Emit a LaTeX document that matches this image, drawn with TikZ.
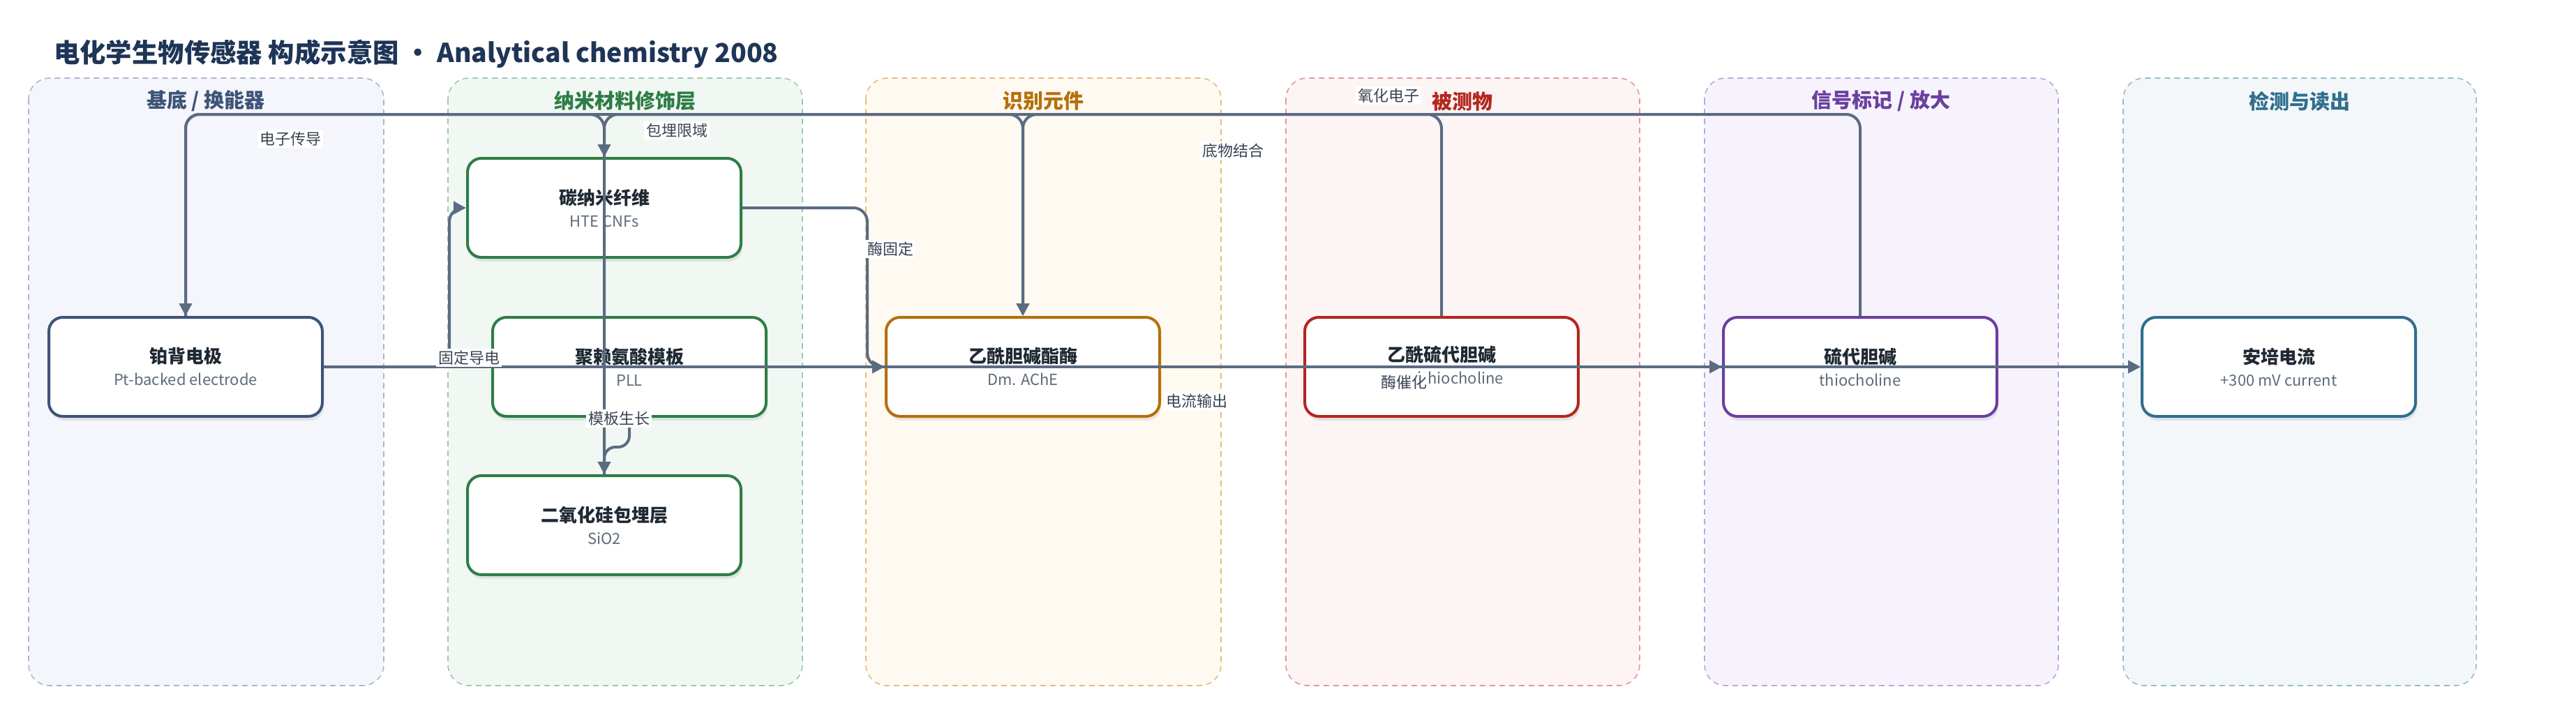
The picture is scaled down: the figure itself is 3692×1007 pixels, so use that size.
\documentclass[tikz,border=0pt]{standalone}
\usepackage{fontspec}
\setmainfont{Noto Sans CJK SC}
\usetikzlibrary{arrows.meta,shadows}

\definecolor{edgec}{HTML}{5B6B82}
\definecolor{titlec}{HTML}{1E3557}
\definecolor{txtc}{HTML}{1F2933}
\definecolor{subc}{HTML}{5F6B7A}
\definecolor{lblc}{HTML}{3A4454}
% lane colours: fill / dash / title
\definecolor{fA}{HTML}{F4F6FB}\definecolor{dA}{HTML}{A9B7CC}\definecolor{cA}{HTML}{3D5478}
\definecolor{fB}{HTML}{F1F8F3}\definecolor{dB}{HTML}{9CC9AB}\definecolor{cB}{HTML}{2E7D46}
\definecolor{fC}{HTML}{FEF9F1}\definecolor{dC}{HTML}{E3BD7D}\definecolor{cC}{HTML}{B5700A}
\definecolor{fD}{HTML}{FDF4F4}\definecolor{dD}{HTML}{E09B9B}\definecolor{cD}{HTML}{B3261E}
\definecolor{fE}{HTML}{F7F3FC}\definecolor{dE}{HTML}{BDA6DC}\definecolor{cE}{HTML}{6B3FA0}
\definecolor{fF}{HTML}{F3F7F9}\definecolor{dF}{HTML}{97BCCB}\definecolor{cF}{HTML}{2F6E8E}

\newcommand{\ntitle}[1]{{\fontsize{13pt}{16pt}\selectfont\bfseries\color{txtc}#1}}
\newcommand{\nsub}[1]{{\fontsize{11pt}{16pt}\selectfont\color{subc}#1}}

\tikzset{
  lane/.style 2 args={fill=#1,draw=#2,line width=0.8pt,dash pattern=on 4pt off 3pt,rounded corners=15pt},
  lanetitle/.style={font=\fontsize{14.5pt}{17pt}\selectfont\bfseries,text=#1},
  box/.style={draw=#1,fill=white,line width=2pt,rounded corners=10pt,
    minimum width=196pt,minimum height=71pt,align=center,
    font=\fontsize{11pt}{16pt}\selectfont,
    drop shadow={opacity=0.16,shadow xshift=1pt,shadow yshift=-3pt}},
  edge/.style={draw=edgec,line width=2pt,rounded corners=10pt,-{Triangle[length=9pt,width=9pt]}},
  lbl/.style={fill=white,inner sep=1.5pt,text=lblc,font=\fontsize{11pt}{13pt}\selectfont},
}

\begin{document}
\begin{tikzpicture}[x=0.5pt,y=-0.5pt]
        \fill[white] (0,0) rectangle (3692,1007);
        \useasboundingbox (0,0) rectangle (3692,1007);
        %
        \node[anchor=west,text=titlec,font=\fontsize{18.7pt}{22pt}\selectfont\bfseries] (title) at (70,77)
          {电化学生物传感器 构成示意图 · Analytical chemistry 2008};
        %
        % lanes
        \filldraw[lane={fA}{dA}] (41,112) rectangle (550,983);
        \filldraw[lane={fB}{dB}] (642,112) rectangle (1150,983);
        \filldraw[lane={fC}{dC}] (1241,112) rectangle (1750,983);
        \filldraw[lane={fD}{dD}] (1843,112) rectangle (2350,983);
        \filldraw[lane={fE}{dE}] (2443,112) rectangle (2950,983);
        \filldraw[lane={fF}{dF}] (3043,112) rectangle (3549,983);
        \node[lanetitle=cA] (tA) at (295,145) {基底 / 换能器};
        \node[lanetitle=cB] (tB) at (896,145) {纳米材料修饰层};
        \node[lanetitle=cC] (tC) at (1495,145) {识别元件};
        \node[lanetitle=cD] (tD) at (2096,145) {被测物};
        \node[lanetitle=cE] (tE) at (2696,145) {信号标记 / 放大};
        \node[lanetitle=cF] (tF) at (3296,145) {检测与读出};
        %
        % nodes
        \node[box=cA] (pt) at (266,526) {\ntitle{铂背电极}\\\nsub{Pt-backed electrode}};
        \node[box=cB] (cnf) at (866,298) {\ntitle{碳纳米纤维}\\\nsub{HTE CNFs}};
        \node[box=cB] (pll) at (902,526) {\ntitle{聚赖氨酸模板}\\\nsub{PLL}};
        \node[box=cB] (sio) at (866,753) {\ntitle{二氧化硅包埋层}\\\nsub{SiO2}};
        \node[box=cC] (ache) at (1466,526) {\ntitle{乙酰胆碱酯酶}\\\nsub{Dm. AChE}};
        \node[box=cD] (atch) at (2066,526) {\ntitle{乙酰硫代胆碱}\\\nsub{acetylthiocholine}};
        \node[box=cE] (tch) at (2666,526) {\ntitle{硫代胆碱}\\\nsub{thiocholine}};
        \node[box=cF] (amp) at (3266,526) {\ntitle{安培电流}\\\nsub{+300 mV current}};
        %
        \coordinate (top) at (0,164);
        %
        % connectors
        \draw[edge] (pt.east) -- (amp.west);
        \draw[edge] (ache.east) -- (tch.west);
        \draw[edge] (pt.east) -- ++(180,0) |- (cnf.west);
        \draw[edge] (cnf.east) -- ++(179,0) |- (ache.west);
        \draw[edge,rounded corners=8pt] (pll.south) -- ++(0,42) -| (sio.north);
        \draw[edge] (sio.north) -- (sio.north |- top) -| (ache.north);
        \draw[edge] (atch.north) -- (atch.north |- top) -| (ache.north);
        \draw[edge] (tch.north) -- (tch.north |- top) -| (pt.north);
        \draw[edge] (pt.north) -- (pt.north |- top) -| (cnf.north);
        %
        % connector labels
        \node[lbl] (lgd) at (672,513) {固定导电};
        \node[lbl] (lmg) at (1276,357) {酶固定};
        \node[lbl] (lmb) at (887,600) {模板生长};
        \node[lbl] (lbm) at (970,187) {包埋限域};
        \node[lbl] (ldw) at (1767,216) {底物结合};
        \node[lbl] (lyh) at (1990,137) {氧化电子};
        \node[lbl] (ldz) at (416,199) {电子传导};
        \node[lbl] (lmc) at (2012,548) {酶催化};
        \node[lbl] (ldl) at (1715,575) {电流输出};
\end{tikzpicture}
\end{document}
